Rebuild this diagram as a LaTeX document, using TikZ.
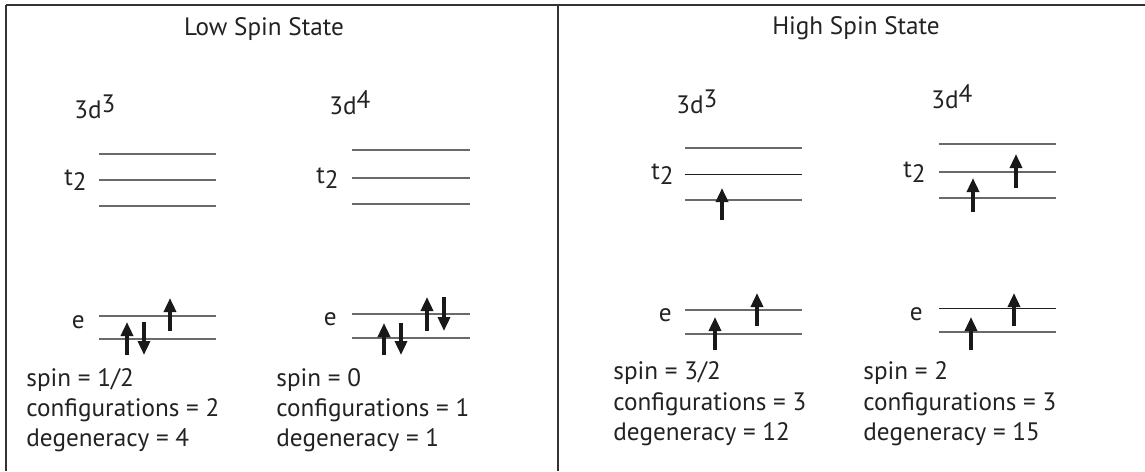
\documentclass[tikz,border=0pt]{standalone}
\usepackage{fontspec}
\setmainfont{PT Sans}
\usetikzlibrary{arrows.meta}
\definecolor{txt}{HTML}{222222}
\definecolor{lvl}{HTML}{6a6a6a}
\definecolor{frm}{HTML}{333333}
\newcommand\supr[1]{\raisebox{3pt}{#1}}
\newcommand\subl[1]{\raisebox{-2.5pt}{#1}}
\begin{document}
\begin{tikzpicture}[x=0.5pt,y=-0.5pt,
  lbl/.style={inner sep=0pt, font=\fontsize{12.6}{15}\selectfont, text=txt},
  level/.style={draw=lvl, line width=0.7pt},
  elec/.style={line width=1.7pt, draw=black!90, -{Triangle[length=7pt,width=6pt]}},
  framel/.style={draw=frm, line width=1.1pt}]
\useasboundingbox (0,0) rectangle (1145,471);
% frame
\coordinate (tl) at (6.3,4.8);
\coordinate (tr) at (1145,4.8);
\coordinate (bl) at (6.3,471);
\coordinate (mt) at (557.7,4.8);
\coordinate (mb) at (557.7,471);
\draw[framel] (tl) -- (tr);
\draw[framel] (tl) -- (bl);
\draw[framel] (mt) -- (mb);
% titles
\node[lbl, anchor=base] (tlow) at (264,35) {Low Spin State};
\node[lbl, anchor=base] (thigh) at (856,34) {High Spin State};
% configuration labels
\node[lbl, anchor=base west] (cA) at (74,118) {3d\supr{3}};
\node[lbl, anchor=base west] (cB) at (329,114) {3d\supr{4}};
\node[lbl, anchor=base west] (cC) at (676,113) {3d\supr{3}};
\node[lbl, anchor=base west] (cD) at (931,108) {3d\supr{4}};
% t2 labels
\node[lbl, anchor=base east] (tA) at (87,185) {t\subl{2}};
\node[lbl, anchor=base east] (tB) at (339,183) {t\subl{2}};
\node[lbl, anchor=base east] (tC) at (674,179) {t\subl{2}};
\node[lbl, anchor=base east] (tD) at (926,177) {t\subl{2}};
% e labels
\node[lbl, anchor=base east] (eA) at (85,328) {e};
\node[lbl, anchor=base east] (eB) at (337,325) {e};
\node[lbl, anchor=base east] (eC) at (672,321) {e};
\node[lbl, anchor=base east] (eD) at (923,320) {e};
% levels
\foreach \y in {154,180,206,316,339} \draw[level] (99,\y) -- (216,\y);
\foreach \y in {150,178,204,314,338} \draw[level] (352,\y) -- (470,\y);
\foreach \y in {148,200,310,334} \draw[level] (685,\y) -- (802,\y);
\draw[level, draw=txt, line width=0.5pt] (685,174) -- (802,174);
\foreach \y in {144,172,198,332} \draw[level] (939,\y) -- (1056,\y);
\draw[level, draw=txt, line width=0.5pt] (939,308) -- (1056,308);
% electrons
\draw[elec] (127,355) -- (127,322);
\draw[elec] (144,322) -- (144,355);
\draw[elec] (170,331) -- (170,298);
\draw[elec] (384,355) -- (384,323);
\draw[elec] (401,323) -- (401,355);
\draw[elec] (427,331) -- (427,297);
\draw[elec] (444,297) -- (444,331);
\draw[elec] (722,220) -- (722,188);
\draw[elec] (715,350) -- (715,317);
\draw[elec] (757,326) -- (757,293);
\draw[elec] (973,212) -- (973,178);
\draw[elec] (1016,188) -- (1016,154);
\draw[elec] (971,350) -- (971,317);
\draw[elec] (1014,326) -- (1014,293);
% summaries
\node[lbl, anchor=base west] (sA1) at (26,386) {spin = 1/2};
\node[lbl, anchor=base west] (sA2) at (26,416) {configurations = 2};
\node[lbl, anchor=base west] (sA3) at (26,446) {degeneracy = 4};
\node[lbl, anchor=base west] (sB1) at (276,386) {spin = 0};
\node[lbl, anchor=base west] (sB2) at (276,416) {configurations = 1};
\node[lbl, anchor=base west] (sB3) at (276,446) {degeneracy = 1};
\node[lbl, anchor=base west] (sC1) at (613,379) {spin = 3/2};
\node[lbl, anchor=base west] (sC2) at (613,410) {configurations = 3};
\node[lbl, anchor=base west] (sC3) at (613,440) {degeneracy = 12};
\node[lbl, anchor=base west] (sD1) at (863,379) {spin = 2};
\node[lbl, anchor=base west] (sD2) at (863,410) {configurations = 3};
\node[lbl, anchor=base west] (sD3) at (863,440) {degeneracy = 15};
\end{tikzpicture}
\end{document}
